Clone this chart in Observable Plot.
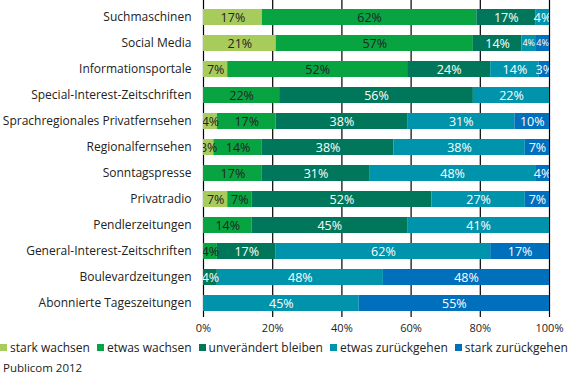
<!DOCTYPE html>
<html><head><meta charset="utf-8">
<script src="https://cdn.jsdelivr.net/npm/d3@7"></script>
<script src="https://cdn.jsdelivr.net/npm/@observablehq/plot@0.6"></script>
<style>
body{margin:0;background:#fff;font-family:"Open Sans",sans-serif;}
#legend{display:flex;gap:0;font-size:12px;color:#222;margin-top:0;white-space:nowrap;height:18px;align-items:center}
#legend span.i{display:inline-flex;align-items:center;margin-right:7px}
#legend i{display:inline-block;width:7px;height:7px;margin-right:3px}
#cap{font-size:11.5px;color:#222;margin:4px 0 0 3px}
</style></head><body>
<div id="chart"></div>
<div id="legend"></div>
<div id="cap">Publicom 2012</div>
<script>
const categories = ["Suchmaschinen","Social Media","Informationsportale","Special-Interest-Zeitschriften","Sprachregionales Privatfernsehen","Regionalfernsehen","Sonntagspresse","Privatradio","Pendlerzeitungen","General-Interest-Zeitschriften","Boulevardzeitungen","Abonnierte Tageszeitungen"];
const seriesNames = ["stark wachsen","etwas wachsen","unverändert bleiben","etwas zurückgehen","stark zurückgehen"];
const starkWachsen      = [17,21,7,0,4,3,0,7,0,0,0,0];
const etwasWachsen      = [62,57,52,22,17,14,17,7,14,4,0,0];
const unveraendert      = [17,14,24,56,38,38,31,52,45,17,4,0];
const etwasZurueck      = [4,4,14,22,31,38,48,27,41,62,48,45];
const starkZurueck      = [0,4,3,0,10,7,4,7,0,17,48,55];
const colors = ["#a8cc5c","#08a442","#00775a","#0094ac","#0070bc"];
const textColors = ["#222","#222","#fff","#fff","#fff"];
const xTicks = [0,20,40,60,80,100];

const seriesValues = [starkWachsen, etwasWachsen, unveraendert, etwasZurueck, starkZurueck];
const data = [];
categories.forEach((c,i)=>{
  let x0=0;
  const row=[];
  seriesValues.forEach((arr,s)=>{
    const v=arr[i];
    if(v>0){row.push({cat:c, series:seriesNames[s], s, value:v, x1:x0, x2:x0+v});}
    x0+=v;
  });
  row.forEach((d,k)=>{
    const nb=[row[k-1],row[k+1]].filter(Boolean);
    d.tight = d.value<5 && nb.some(n=>n.value<5);
    data.push(d);
  });
});

const plot = Plot.plot({
  width:568, height:338,
  marginLeft:203, marginRight:19, marginTop:4, marginBottom:22,
  style:{fontFamily:"Open Sans, sans-serif", fontSize:"12px", color:"#222"},
  x:{domain:[0,100], ticks:xTicks, tickFormat:d=>d+"%", label:null},
  y:{domain:categories, paddingInner:0.38, paddingOuter:0.19, label:null},
  color:{domain:seriesNames, range:colors},
  marks:[
    Plot.ruleX(xTicks,{stroke:"#000", strokeWidth:1.2, insetTop:-4, insetBottom:-1}),
    Plot.barX(data,{y:"cat", x1:"x1", x2:"x2", fill:"series"}),
    Plot.text(data.filter(d=>!d.tight),{y:"cat", x:d=>(d.x1+d.x2)/2, text:d=>d.value+"%", fill:d=>textColors[d.s], fontSize:12.5, clip:"frame"}),
    Plot.text(data.filter(d=>d.tight),{y:"cat", x:d=>(d.x1+d.x2)/2, text:d=>d.value+"%", fill:d=>textColors[d.s], fontSize:9, clip:"frame"}),
    Plot.axisX({ticks:xTicks, tickFormat:d=>d+"%", tickSize:0, tickPadding:8, fontSize:11, label:null}),
    Plot.axisY({tickSize:0, tickPadding:12, fontSize:12, label:null})
  ]
});
document.getElementById("chart").appendChild(plot);
const lg=document.getElementById("legend");
seriesNames.forEach((n,i)=>{
  const s=document.createElement("span");s.className="i";
  s.innerHTML=`<i style="background:${colors[i]}"></i>${n}`;
  lg.appendChild(s);
});
</script>
</body></html>
